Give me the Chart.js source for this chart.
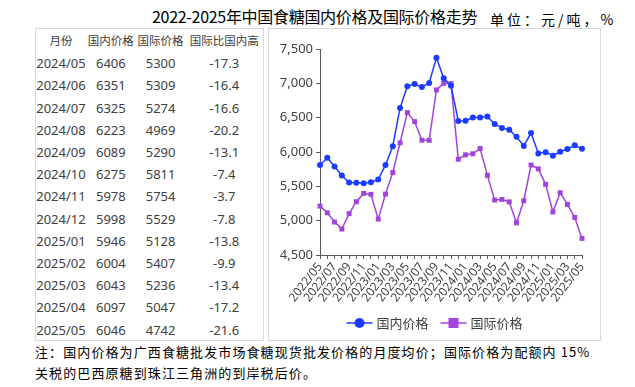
<!DOCTYPE html>
<html>
<head>
<meta charset="utf-8">
<script src="https://cdn.jsdelivr.net/npm/chart.js@4.4.1/dist/chart.umd.min.js"></script>
<style>
  body { margin: 0; background: #fff; width: 635px; height: 387px; position: relative; overflow: hidden; }
  .title { position: absolute; left: 152px; top: 4px; font: 16px "Noto Sans CJK SC"; color: #000; white-space: nowrap; letter-spacing: -0.3px; }
  .unit { position: absolute; left: 490px; top: 9px; font: 14px "Noto Sans CJK SC"; color: #000; white-space: nowrap; letter-spacing: 3px; }
  .tbox { position: absolute; left: 35px; top: 28px; width: 227px; height: 311px; border: 1px solid #d9d9d9; }
  .tbox table { border-collapse: collapse; font: 13px "Noto Sans", "Noto Sans CJK SC"; color: #404040; margin-top: 1px; }
  .tbox td { height: 22.2px; padding: 0; text-align: center; white-space: nowrap; line-height: 22px; }
  .tbox tr.head td { font-size: 11.5px; }
  .cbox { position: absolute; left: 268px; top: 28px; width: 331px; height: 311px; border: 1px solid #d9d9d9; }
  .note { position: absolute; left: 35px; top: 341px; font: 13px "Noto Sans CJK SC"; color: #000; line-height: 21px; letter-spacing: 1.1px; white-space: nowrap; }
</style>
</head>
<body>
<div class="title">2022-2025年中国食糖国内价格及国际价格走势</div>
<div class="unit">单位：元/吨，%</div>
<div class="tbox"><table id="tbl"></table></div>
<div class="cbox"><canvas id="chart" width="331" height="311"></canvas></div>
<div class="note">注：国内价格为广西食糖批发市场食糖现货批发价格的月度均价；国际价格为配额内 15%<br>关税的巴西原糖到珠江三角洲的到岸税后价。</div>
<script>
const months = [];
for (let y = 2022; y <= 2025; y++) {
  for (let m = 1; m <= 12; m++) {
    if ((y === 2022 && m < 5) || (y === 2025 && m > 5)) continue;
    months.push(y + '/' + String(m).padStart(2, '0'));
  }
}

const domestic = [5810, 5915, 5788, 5658, 5557, 5552, 5545, 5561, 5598, 5812, 6084, 6642,
  6956, 6991, 6945, 7006, 7374, 7073, 6966, 6453, 6455, 6501, 6501, 6516,
  6406, 6351, 6325, 6223, 6089, 6275, 5978, 5998, 5946, 6004, 6043, 6097, 6046];
const international = [5212, 5115, 4980, 4878, 5102, 5276, 5397, 5383, 5023, 5387, 5702, 6134,
  6574, 6443, 6172, 6170, 6904, 7000, 6996, 5895, 5959, 5974, 6051, 5660,
  5300, 5309, 5274, 4969, 5290, 5811, 5754, 5529, 5128, 5407, 5236, 5047, 4742];
const tableDiff = ['-17.3', '-16.4', '-16.6', '-20.2', '-13.1', '-7.4', '-3.7', '-7.8', '-13.8', '-9.9', '-13.4', '-17.2', '-21.6'];
const tableHeader = ['月份', '国内价格', '国际价格', '国际比国内高'];
const yTicks = [4500, 5000, 5500, 6000, 6500, 7000, 7500];

// table
const tbl = document.getElementById('tbl');
const widths = [50, 50, 50, 78];
let html = '<tr class="head">' + tableHeader.map((h, i) => `<td style="width:${widths[i]}px">${h}</td>`).join('') + '</tr>';
const start = months.length - tableDiff.length;
for (let i = 0; i < tableDiff.length; i++) {
  html += `<tr><td>${months[start + i]}</td><td>${domestic[start + i]}</td><td>${international[start + i]}</td><td>${tableDiff[i]}</td></tr>`;
}
tbl.innerHTML = html;

const BLUE = '#1b3cff';
const PURPLE = '#a244dc';
const AXIS = '#595959';
const FONT = '"Noto Sans", "Noto Sans CJK SC"';

// legend: line + marker, like the original
const lineLegend = {
  id: 'lineLegend',
  afterDraw(chart) {
    const ctx = chart.ctx;
    const items = chart.data.datasets;
    ctx.save();
    ctx.font = '13px "Noto Sans CJK SC"';
    const lineW = 26, gap = 4, itemGap = 12;
    const ws = items.map(d => lineW + gap + ctx.measureText(d.label).width);
    const total = ws.reduce((a, b) => a + b, 0) + itemGap * (items.length - 1);
    let x = (chart.width - total) / 2;
    const y = 294;
    items.forEach((d, i) => {
      ctx.strokeStyle = d.borderColor;
      ctx.lineWidth = 1.5;
      ctx.beginPath();
      ctx.moveTo(x, y);
      ctx.lineTo(x + lineW, y);
      ctx.stroke();
      ctx.fillStyle = d.borderColor;
      if (d.pointStyle === 'rect') {
        ctx.fillRect(x + lineW / 2 - 5, y - 5, 10, 10);
      } else {
        ctx.beginPath();
        ctx.arc(x + lineW / 2, y, 5, 0, Math.PI * 2);
        ctx.fill();
      }
      ctx.fillStyle = '#404040';
      ctx.textBaseline = 'middle';
      ctx.fillText(d.label, x + lineW + gap, y);
      x += ws[i] + itemGap;
    });
    ctx.restore();
  }
};

new Chart(document.getElementById('chart'), {
  type: 'line',
  data: {
    labels: months,
    datasets: [{
      label: '国内价格',
      data: domestic,
      borderColor: BLUE,
      backgroundColor: BLUE,
      borderWidth: 1.5,
      pointStyle: 'circle',
      pointRadius: 3,
      pointBorderWidth: 0,
      tension: 0
    }, {
      label: '国际价格',
      data: international,
      borderColor: PURPLE,
      backgroundColor: PURPLE,
      borderWidth: 1.5,
      pointStyle: 'rect',
      pointRadius: 3.5,
      pointBorderWidth: 0,
      tension: 0
    }]
  },
  options: {
    responsive: false,
    animation: false,
    layout: { padding: { left: 0, right: 18, top: 20, bottom: 30 } },
    scales: {
      x: {
        offset: false,
        afterFit: (scale) => { scale.height = 55; },
        border: { color: AXIS, width: 1 },
        grid: { display: true, drawOnChartArea: false, drawTicks: true, tickLength: 4, color: AXIS },
        ticks: {
          autoSkip: false,
          maxRotation: 52,
          minRotation: 52,
          padding: 1,
          color: '#404040',
          font: { family: FONT, size: 12 },
          callback: function(value, index) {
            return index % 2 === 0 ? months[index] : '';
          }
        }
      },
      y: {
        min: yTicks[0],
        max: yTicks[yTicks.length - 1],
        afterFit: (scale) => { scale.width = 51; },
        border: { color: AXIS, width: 1 },
        grid: { display: true, drawOnChartArea: false, drawTicks: true, tickLength: 4, color: AXIS },
        afterBuildTicks: (scale) => { scale.ticks = yTicks.map(v => ({ value: v })); },
        ticks: {
          padding: 3,
          color: '#404040',
          font: { family: FONT, size: 13 },
          callback: (v) => v.toLocaleString('en-US')
        }
      }
    },
    plugins: {
      legend: { display: false },
      tooltip: { enabled: false }
    }
  },
  plugins: [lineLegend]
});
</script>
</body>
</html>
